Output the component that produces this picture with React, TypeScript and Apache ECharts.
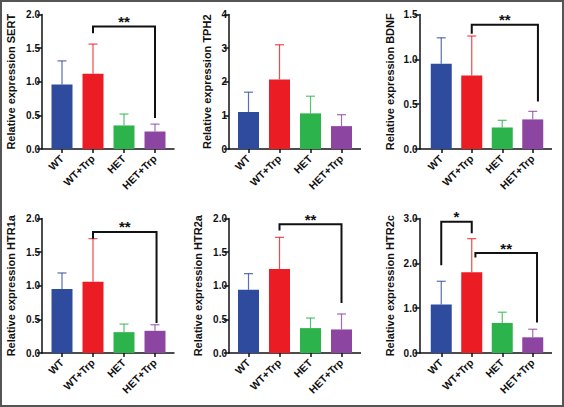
import React, { useEffect, useRef } from 'react';
import * as echarts from 'echarts';

// Groups and their bar colours
const groups = ['WT', 'WT+Trp', 'HET', 'HET+Trp'];
const barColors = ['#2f4b9e', '#ec1c24', '#2db34b', '#8d45a2'];

// Relative expression: group means and SD (upper error bar)
const sertMean = [0.96, 1.12, 0.35, 0.26];
const sertSd = [0.35, 0.44, 0.17, 0.11];
const tph2Mean = [1.1, 2.07, 1.06, 0.68];
const tph2Sd = [0.59, 1.03, 0.51, 0.34];
const bdnfMean = [0.95, 0.82, 0.24, 0.33];
const bdnfSd = [0.29, 0.44, 0.08, 0.09];
const htr1aMean = [0.95, 1.06, 0.31, 0.33];
const htr1aSd = [0.24, 0.64, 0.12, 0.09];
const htr2aMean = [0.94, 1.25, 0.37, 0.35];
const htr2aSd = [0.24, 0.47, 0.15, 0.23];
const htr2cMean = [1.08, 1.8, 0.67, 0.35];
const htr2cSd = [0.52, 0.75, 0.24, 0.18];

// Significance brackets: [fromGroup, toGroup, barHeight, fromLegEnd, toLegEnd, mark]
type Sig = [number, number, number, number, number, string];
const sertSig: Sig[] = [[1, 3, 1.82, 1.72, 0.46, '**']];
const tph2Sig: Sig[] = [];
const bdnfSig: Sig[] = [[1, 3, 1.385, 1.285, 0.53, '**']];
const htr1aSig: Sig[] = [[1, 3, 1.8, 1.7, 0.445, '**']];
const htr2aSig: Sig[] = [[1, 3, 1.915, 1.82, 0.745, '**']];
const htr2cSig: Sig[] = [
  [0, 1, 2.93, 1.96, 2.67, '*'],
  [1, 3, 2.23, 2.13, 0.68, '**'],
];

const panels = [
  { gene: 'SERT', mean: sertMean, sd: sertSd, sig: sertSig, max: 2, step: 0.5, digits: 1 },
  { gene: 'TPH2', mean: tph2Mean, sd: tph2Sd, sig: tph2Sig, max: 4, step: 1, digits: 0 },
  { gene: 'BDNF', mean: bdnfMean, sd: bdnfSd, sig: bdnfSig, max: 1.5, step: 0.5, digits: 1 },
  { gene: 'HTR1a', mean: htr1aMean, sd: htr1aSd, sig: htr1aSig, max: 2, step: 0.5, digits: 1 },
  { gene: 'HTR2a', mean: htr2aMean, sd: htr2aSd, sig: htr2aSig, max: 2, step: 0.5, digits: 1 },
  { gene: 'HTR2c', mean: htr2cMean, sd: htr2cSd, sig: htr2cSig, max: 3, step: 1, digits: 1 },
];

// Panel placement (px): grid box, gap between y-axis line and first band, name gap, leg shifts
const layouts = [
  { left: 46.5, top: 14.5, width: 124, height: 134.5, gap: 4.5, nameGap: 26, shifts: [[0, 0]] },
  { left: 233, top: 14.5, width: 124, height: 134.5, gap: 4, nameGap: 17, shifts: [] },
  { left: 426, top: 14.5, width: 122, height: 134.5, gap: 6.5, nameGap: 24, shifts: [[0, 0.17]] },
  { left: 46.5, top: 218.5, width: 124, height: 134.5, gap: 4.5, nameGap: 26, shifts: [[0, 0.05]] },
  { left: 233, top: 218.5, width: 124, height: 134.5, gap: 4, nameGap: 26, shifts: [[0, 0]] },
  { left: 426, top: 218.5, width: 122, height: 134.5, gap: 6.5, nameGap: 24, shifts: [[0, 0], [0.12, 0.14]] },
];

const FONT = '"Liberation Sans", Arial, Helvetica, sans-serif';
const INK = '#111111';

function buildOption(): echarts.EChartsOption {
  const grid: any[] = [];
  const xAxis: any[] = [];
  const yAxis: any[] = [];
  const series: any[] = [];

  panels.forEach((p, k) => {
    const L = layouts[k];
    grid.push({ left: L.left, top: L.top, width: L.width, height: L.height, outerBoundsMode: 'none' });
    xAxis.push({
      type: 'category',
      gridIndex: k,
      data: groups,
      axisLine: { show: false },
      axisTick: { show: true, alignWithLabel: true, length: 4, lineStyle: { color: INK, width: 1.5 } },
      axisLabel: {
        interval: 0,
        rotate: 45,
        margin: 8,
        color: INK,
        fontFamily: FONT,
        fontWeight: 'bold',
        fontSize: 10.5,
      },
    });
    yAxis.push({
      type: 'value',
      gridIndex: k,
      min: 0,
      max: p.max,
      interval: p.step,
      offset: L.gap,
      splitLine: { show: false },
      axisLine: { show: true, lineStyle: { color: INK, width: 1.5 } },
      axisTick: { show: true, length: 5, lineStyle: { color: INK, width: 1.5 } },
      axisLabel: {
        margin: 2,
        color: INK,
        fontFamily: FONT,
        fontWeight: 'bold',
        fontSize: 10,
        formatter: (v: number) => v.toFixed(p.digits),
      },
      name: 'Relative expression ' + p.gene,
      nameLocation: 'middle',
      nameRotate: 90,
      nameGap: L.nameGap,
      nameTextStyle: { color: INK, fontFamily: FONT, fontWeight: 'bold', fontSize: 11 },
    });

    // Bars
    series.push({
      type: 'bar',
      xAxisIndex: k,
      yAxisIndex: k,
      barWidth: 21,
      z: 3,
      data: p.mean.map((v, i) => ({ value: v, itemStyle: { color: barColors[i] } })),
    });

    // Upper error bars, plus the x baseline that reaches the y-axis line
    series.push({
      type: 'custom',
      xAxisIndex: k,
      yAxisIndex: k,
      z: 2,
      encode: { x: 0, y: [1, 2] },
      data: p.mean.map((v, i) => [i, v, v + p.sd[i]]),
      renderItem: (params: any, api: any) => {
        const i = api.value(0);
        const base = api.coord([i, api.value(1)]);
        const top = api.coord([i, api.value(2)]);
        const half = 4.5;
        const style = { stroke: barColors[i], lineWidth: 1.2, opacity: 0.8 };
        const children: any[] = [
          { type: 'line', shape: { x1: base[0], y1: base[1], x2: top[0], y2: top[1] }, style },
          { type: 'line', shape: { x1: top[0] - half, y1: top[1], x2: top[0] + half, y2: top[1] }, style },
        ];
        if (params.dataIndex === 0) {
          const cs = params.coordSys;
          const yb = cs.y + cs.height;
          children.push({
            type: 'line',
            z2: 10,
            shape: { x1: cs.x - L.gap - 0.75, y1: yb, x2: cs.x + cs.width + 4, y2: yb },
            style: { stroke: INK, lineWidth: 1.5 },
          });
        }
        return { type: 'group', children };
      },
    });

    // Significance brackets
    if (p.sig.length) {
      series.push({
        type: 'custom',
        xAxisIndex: k,
        yAxisIndex: k,
        z: 5,
        clip: false,
        encode: { x: 0, y: 2 },
        data: p.sig.map((s, j) => [s[0], s[1], s[2], s[3], s[4], j]),
        renderItem: (params: any, api: any) => {
          const from = api.value(0);
          const to = api.value(1);
          const j = api.value(5);
          const band = api.size([1, 0])[0];
          const sh = L.shifts[j] || [0, 0];
          const pTop = api.coord([from, api.value(2)]);
          const x1 = pTop[0] + sh[0] * band;
          const x2 = api.coord([to, api.value(2)])[0] + sh[1] * band;
          const yTop = pTop[1];
          const y1 = api.coord([from, api.value(3)])[1];
          const y2 = api.coord([to, api.value(4)])[1];
          return {
            type: 'group',
            children: [
              {
                type: 'polyline',
                shape: { points: [[x1, y1], [x1, yTop], [x2, yTop], [x2, y2]] },
                style: { stroke: INK, lineWidth: 2, fill: 'none' },
              },
              {
                type: 'text',
                x: (x1 + x2) / 2,
                y: yTop - 5,
                style: {
                  text: p.sig[j][5],
                  fill: INK,
                  font: `bold 15px ${FONT}`,
                  align: 'center',
                  verticalAlign: 'middle',
                },
              },
            ],
          };
        },
      });
    }
  });

  return {
    animation: false,
    backgroundColor: '#ffffff',
    textStyle: { fontFamily: FONT },
    grid,
    xAxis,
    yAxis,
    series,
    graphic: [
      {
        type: 'rect',
        shape: { x: 1, y: 1, width: 562, height: 405 },
        style: { fill: 'none', stroke: '#555555', lineWidth: 2 },
        silent: true,
      },
    ],
  };
}

export default function App() {
  const ref = useRef<HTMLDivElement>(null);
  useEffect(() => {
    if (!ref.current) return;
    const chart = echarts.init(ref.current, undefined, { renderer: 'svg' });
    chart.setOption(buildOption());
    return () => chart.dispose();
  }, []);
  return (
    <div
      ref={ref}
      style={{ position: 'absolute', left: 0, top: 0, width: 564, height: 407 }}
    />
  );
}
